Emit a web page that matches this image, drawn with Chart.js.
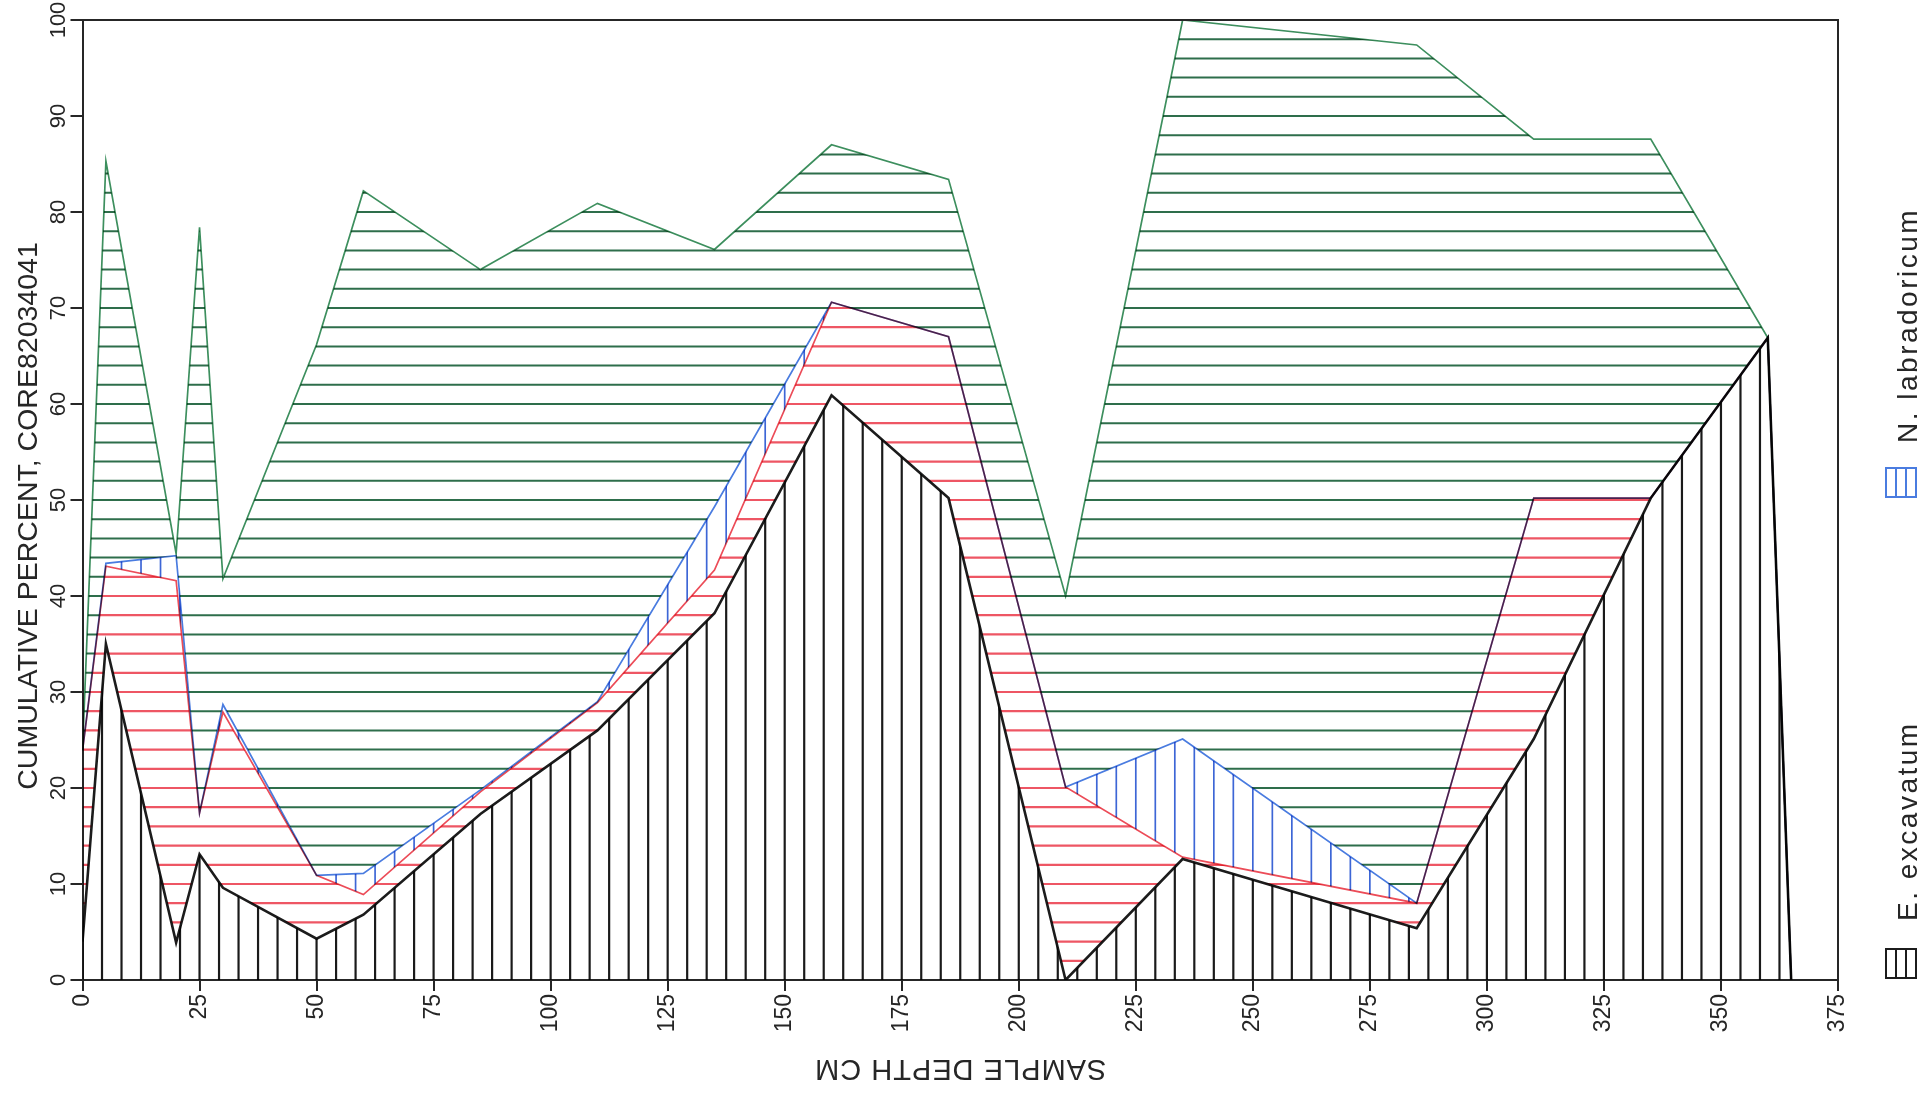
<!DOCTYPE html>
<html>
<head>
<meta charset="utf-8">
<title>Cumulative percent, CORE82034041</title>
<script src="https://cdn.jsdelivr.net/npm/chart.js@4.4.1/dist/chart.umd.min.js"></script>
<style>
  html, body { margin: 0; padding: 0; background: #fff; }
  #core-chart { display: block; }
</style>
</head>
<body>
<canvas id="core-chart" width="1932" height="1098"></canvas>
<script>
// sample depths down the core (cm)
const depthCm = [0, 5, 20, 25, 30, 50, 60, 85, 110, 135, 160, 185, 210, 235, 285, 310, 335, 360, 365];

// cumulative percent at the top of each band, bottom band first
const cumExcavatum = [4.0, 35.0, 3.9, 13.1, 9.6, 4.3, 6.8, 17.3, 26.0, 38.2, 60.9, 50.2, 0.0, 12.6, 5.4, 25.1, 50.2, 66.9, 0];
const cumRedBand = [23.9, 43.1, 41.6, 17.4, 27.9, 10.9, 8.9, 19.6, 28.9, 42.7, 70.6, 67.0, 20.1, 12.8, 8.0, 50.2, 50.2, 66.9, 0];
const cumLabradoricum = [23.9, 43.4, 44.2, 17.4, 28.7, 10.9, 11.1, 19.8, 29.0, 49.3, 70.6, 67.0, 20.1, 25.1, 8.0, 50.2, 50.2, 66.9, 0];
const cumGreenBand = [23.9, 85.3, 44.4, 78.4, 41.8, 66.2, 82.2, 74.0, 80.9, 76.1, 87.0, 83.4, 40.0, 100, 97.4, 87.6, 87.6, 66.9, 0];

const INK = '#262626';
const FONT = 'Liberation Sans';
const HATCH_DEPTH_STEP = 375 / 90; // spacing of vertical hatching, cm
const HATCH_PCT_STEP = 2;          // spacing of horizontal hatching, percent

const bands = [
  { top: cumExcavatum, bottom: null, dir: 'v', color: '#1a1a1a', width: 2.2 },
  { top: cumRedBand, bottom: cumExcavatum, dir: 'h', color: '#ee5664', width: 2.2 },
  { top: cumLabradoricum, bottom: cumRedBand, dir: 'v', color: '#3d66d6', width: 1.7 },
  { top: cumGreenBand, bottom: cumLabradoricum, dir: 'h', color: '#2e6e4b', width: 2 },
];

const toPoints = (values) => depthCm.map((d, i) => ({ x: d, y: values[i] }));

// hatched fill between consecutive cumulative curves
const hatchPlugin = {
  id: 'hatch',
  beforeDatasetsDraw(chart) {
    const { ctx, chartArea, scales: { x, y } } = chart;
    ctx.save();
    ctx.beginPath();
    ctx.rect(chartArea.left, chartArea.top, chartArea.width, chartArea.height);
    ctx.clip();
    ctx.globalCompositeOperation = 'multiply';
    bands.forEach((band) => {
      ctx.save();
      ctx.beginPath();
      depthCm.forEach((d, i) => {
        const px = x.getPixelForValue(d);
        const py = y.getPixelForValue(band.top[i]);
        if (i === 0) ctx.moveTo(px, py); else ctx.lineTo(px, py);
      });
      for (let i = depthCm.length - 1; i >= 0; i--) {
        ctx.lineTo(x.getPixelForValue(depthCm[i]), y.getPixelForValue(band.bottom ? band.bottom[i] : 0));
      }
      ctx.closePath();
      ctx.clip();

      ctx.strokeStyle = band.color;
      ctx.lineWidth = band.width;
      ctx.beginPath();
      if (band.dir === 'v') {
        for (let d = 0; d <= x.max + 0.01; d += HATCH_DEPTH_STEP) {
          const px = x.getPixelForValue(d);
          ctx.moveTo(px, chartArea.top);
          ctx.lineTo(px, chartArea.bottom);
        }
      } else {
        for (let v = HATCH_PCT_STEP; v <= y.max; v += HATCH_PCT_STEP) {
          const py = y.getPixelForValue(v);
          ctx.moveTo(chartArea.left, py);
          ctx.lineTo(chartArea.right, py);
        }
      }
      ctx.stroke();
      ctx.restore();
    });
    ctx.restore();
  },
  // overlapping pens darken each other
  beforeDatasetDraw(chart) {
    chart.ctx.save();
    chart.ctx.globalCompositeOperation = 'multiply';
  },
  afterDatasetDraw(chart) {
    chart.ctx.restore();
  },
};

// frame, rotated labels, axis titles and legend
const framePlugin = {
  id: 'frame',
  afterDraw(chart) {
    const { ctx, chartArea, scales: { y } } = chart;
    ctx.save();

    ctx.strokeStyle = INK;
    ctx.lineWidth = 2;
    ctx.beginPath();
    ctx.moveTo(chartArea.left, chartArea.top);
    ctx.lineTo(chartArea.right, chartArea.top);
    ctx.lineTo(chartArea.right, chartArea.bottom);
    ctx.stroke();

    ctx.fillStyle = INK;

    // y tick labels, turned like the rest of the sheet
    ctx.font = `22px "${FONT}"`;
    ctx.textAlign = 'center';
    ctx.textBaseline = 'alphabetic';
    y.ticks.forEach((t) => {
      ctx.save();
      ctx.translate(chartArea.left - 18, y.getPixelForValue(t.value));
      ctx.rotate(-Math.PI / 2);
      ctx.fillText(String(t.value), 0, 0);
      ctx.restore();
    });

    // y axis title
    ctx.save();
    ctx.font = `28.5px "${FONT}"`;
    ctx.translate(37, 516);
    ctx.rotate(-Math.PI / 2);
    ctx.fillText('CUMULATIVE PERCENT, CORE82034041', 0, 0);
    ctx.restore();

    // x axis title, upside down
    ctx.save();
    ctx.font = `29px "${FONT}"`;
    ctx.letterSpacing = '1px';
    ctx.translate((chartArea.left + chartArea.right) / 2, 1060);
    ctx.rotate(Math.PI);
    ctx.fillText('SAMPLE DEPTH CM', 0, 0);
    ctx.restore();

    // legend
    const entries = [
      { ds: chart.data.datasets[0], boxTop: 949, textStart: 921 },
      { ds: chart.data.datasets[2], boxTop: 468, textStart: 443 },
    ];
    entries.forEach(({ ds, boxTop, textStart }) => {
      ctx.strokeStyle = ds.borderColor;
      ctx.lineWidth = 2;
      ctx.strokeRect(1886, boxTop, 30, 29);
      ctx.beginPath();
      ctx.moveTo(1896, boxTop);
      ctx.lineTo(1896, boxTop + 29);
      ctx.moveTo(1906, boxTop);
      ctx.lineTo(1906, boxTop + 29);
      ctx.stroke();

      ctx.save();
      ctx.fillStyle = INK;
      ctx.font = `28px "${FONT}"`;
      ctx.letterSpacing = '2.5px';
      ctx.textAlign = 'left';
      ctx.translate(1917, textStart);
      ctx.rotate(-Math.PI / 2);
      ctx.fillText(ds.label, 0, 0);
      ctx.restore();
    });

    ctx.restore();
  },
};

const lineStyle = { fill: false, tension: 0, pointRadius: 0, pointHoverRadius: 0 };

new Chart(document.getElementById('core-chart'), {
  type: 'line',
  data: {
    datasets: [
      { label: 'E. excavatum', data: toPoints(cumExcavatum), borderColor: '#1c1c1c', borderWidth: 2.6, ...lineStyle },
      { label: '', data: toPoints(cumRedBand), borderColor: '#ec4c58', borderWidth: 1.7, ...lineStyle },
      { label: 'N. labradoricum', data: toPoints(cumLabradoricum), borderColor: '#4a7ce0', borderWidth: 1.7, ...lineStyle },
      { label: '', data: toPoints(cumGreenBand), borderColor: '#3d8f5e', borderWidth: 1.7, ...lineStyle },
    ],
  },
  options: {
    responsive: false,
    animation: false,
    devicePixelRatio: 1,
    layout: { padding: { top: 20, right: 94, bottom: 0, left: 0 } },
    plugins: {
      legend: { display: false },
      tooltip: { enabled: false },
    },
    scales: {
      x: {
        type: 'linear',
        min: 0,
        max: 375,
        ticks: {
          stepSize: 25,
          autoSkip: false,
          minRotation: 90,
          maxRotation: 90,
          padding: 3,
          color: INK,
          font: { family: FONT, size: 23 },
        },
        grid: { drawOnChartArea: false, drawTicks: true, tickLength: 11, color: INK, lineWidth: 2 },
        border: { color: INK, width: 2 },
        afterFit: (scale) => { scale.height = 118; },
      },
      y: {
        min: 0,
        max: 100,
        ticks: { stepSize: 10, display: false },
        grid: { drawOnChartArea: false, drawTicks: true, tickLength: 12, color: INK, lineWidth: 2 },
        border: { color: INK, width: 2 },
        afterFit: (scale) => { scale.width = 82.5; },
      },
    },
  },
  plugins: [hatchPlugin, framePlugin],
});
</script>
</body>
</html>
